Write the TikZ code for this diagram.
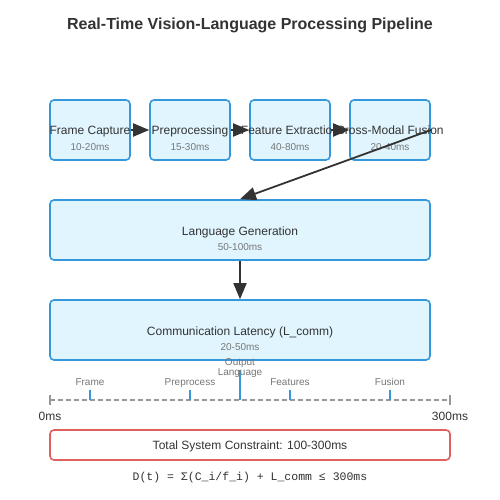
\documentclass[tikz,border=0pt]{standalone}
\usepackage{fontspec}
\setmainfont{Liberation Sans}
\newfontfamily\monof{Liberation Mono}
\usetikzlibrary{arrows.meta}
\definecolor{boxfill}{HTML}{E1F5FE}
\definecolor{boxline}{HTML}{3498DB}
\definecolor{darktext}{HTML}{333333}
\definecolor{graytext}{HTML}{777777}
\definecolor{redline}{HTML}{E06060}
\definecolor{tlgray}{HTML}{999999}
\tikzset{
  stagebox/.style={draw=boxline, fill=boxfill, line width=1.6pt, rounded corners=4pt, minimum width=80pt, minimum height=60pt, inner sep=0pt},
  widebox/.style={stagebox, minimum width=380pt},
  lbl/.style={anchor=base, text=darktext, font=\fontsize{12}{14}\selectfont, inner sep=0pt},
  sublbl/.style={anchor=base, text=graytext, font=\fontsize{10}{12}\selectfont, inner sep=0pt},
  conn/.style={draw=darktext, line width=1.8pt, -{Triangle[length=16pt,width=13pt]}},
  tick/.style={draw=boxline, line width=2pt},
}
\begin{document}
\begin{tikzpicture}[x=1pt,y=-1pt]
\useasboundingbox[fill=white] (0,0) rectangle (500,500);
\node[anchor=base, text=darktext, font=\bfseries\fontsize{16}{19}\selectfont] (title) at (250,30) {Real-Time Vision-Language Processing Pipeline};

\node[stagebox] (fc) at (90,130) {};
\node[stagebox] (pp) at (190,130) {};
\node[stagebox] (fe) at (290,130) {};
\node[stagebox] (fu) at (390,130) {};
\node[widebox] (lg) at (240,230) {};
\node[widebox] (cl) at (240,330) {};

\draw[conn] (fc.east) -- (pp.west);
\draw[conn] (pp.east) -- (fe.west);
\draw[conn] (fe.east) -- (fu.west);

\node[lbl] (fct) at (90,135) {Frame Capture};
\node[sublbl] (fcs) at (90,150) {10-20ms};
\node[lbl] (ppt) at (190,135) {Preprocessing};
\node[sublbl] (pps) at (190,150) {15-30ms};
\node[lbl] (fet) at (290,135) {Feature Extraction};
\node[sublbl] (fes) at (290,150) {40-80ms};
\node[lbl] (fut) at (390,135) {Cross-Modal Fusion};
\node[sublbl] (fus) at (390,150) {20-40ms};
\node[lbl] (lgt) at (240,235) {Language Generation};
\node[sublbl] (lgs) at (240,250) {50-100ms};
\node[lbl] (clt) at (240,335) {Communication Latency (L\_comm)};
\node[sublbl] (cls) at (240,350) {20-50ms};

\draw[conn] (fu.east) -- (lg.north);
\draw[conn] (lg.south) -- (cl.north);

% timeline
\coordinate (t0) at (50,400);
\coordinate (t1) at (450,400);
\draw[tlgray, line width=1.5pt, dash pattern=on 5pt off 3pt] (t0) -- (t1);
\draw[tlgray, line width=1.5pt] (50,395) -- (50,405);
\draw[tlgray, line width=1.5pt] (450,395) -- (450,405);
\draw[tick] (90,390) -- (90,400);
\draw[tick] (190,390) -- (190,400);
\draw[tick] (240,370) -- (240,400);
\draw[tick] (290,390) -- (290,400);
\draw[tick] (390,390) -- (390,400);
\node[sublbl] (tl1) at (90,385) {Frame};
\node[sublbl] (tl2) at (190,385) {Preprocess};
\node[sublbl] (tl3) at (240,365) {Output};
\node[sublbl] (tl3b) at (240,375) {Language};
\node[sublbl] (tl4) at (290,385) {Features};
\node[sublbl] (tl5) at (390,385) {Fusion};
\node[lbl] (z0) at (50,420) {0ms};
\node[lbl] (z1) at (450,420) {300ms};

\node[draw=redline, fill=white, line width=1.6pt, rounded corners=4pt, minimum width=400pt, minimum height=30pt, inner sep=0pt] (tot) at (250,445) {};
\node[lbl] (tott) at (250,449) {Total System Constraint: 100-300ms};
\node[anchor=base, text=darktext, font=\monof\fontsize{11.5}{13}\selectfont, inner sep=0pt] (form) at (250,480) {D(t) = Σ(C\_i/f\_i) + L\_comm ≤ 300ms};
\end{tikzpicture}
\end{document}
